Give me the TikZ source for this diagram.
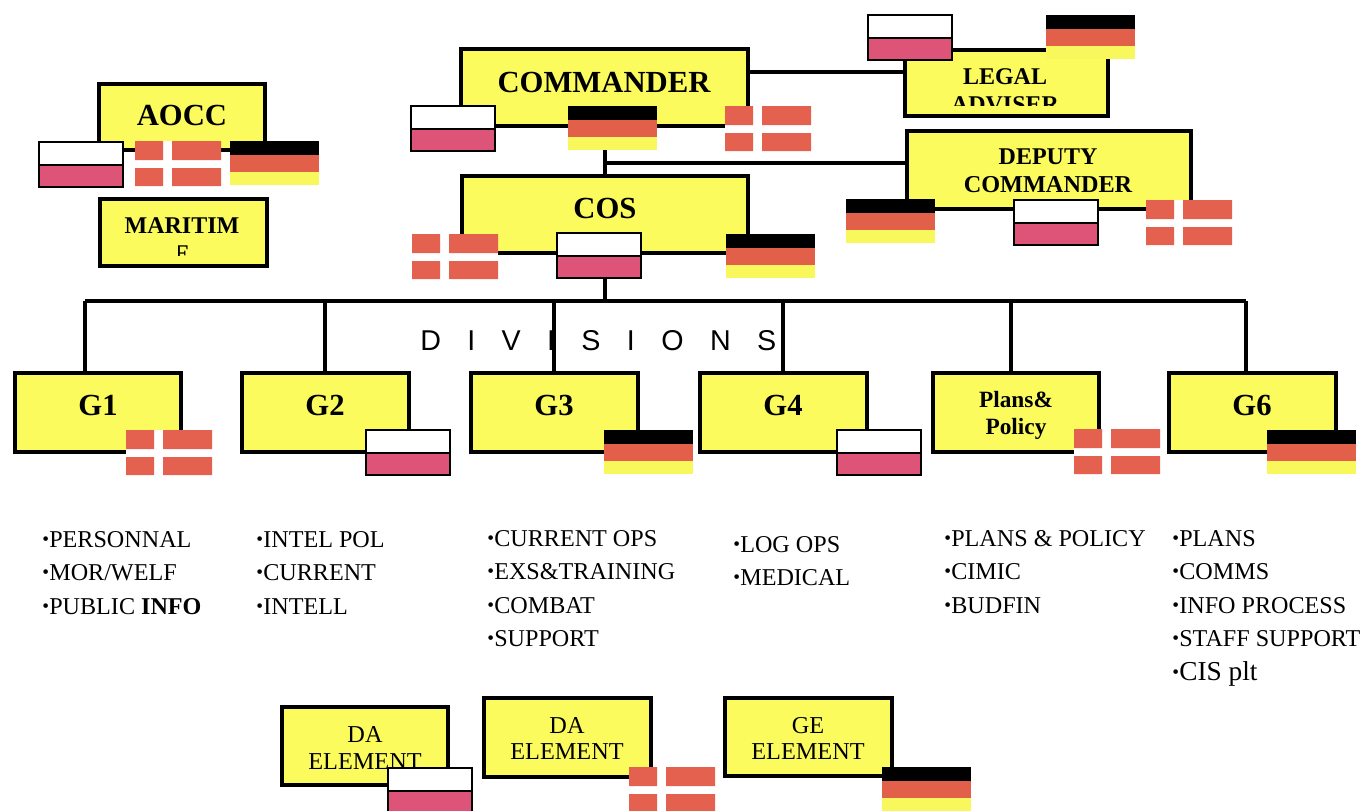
\documentclass[tikz,border=0pt]{standalone}
\usepackage{fontspec}
\setmainfont{Liberation Serif}
\newfontfamily\divfont[LetterSpace=92]{Liberation Sans}
\newlength\pxu
\setlength\pxu{0.75pt}
\definecolor{boxyellow}{HTML}{FBFB5E}
\definecolor{dkred}{HTML}{E4604F}
\definecolor{plpink}{HTML}{DE5479}
\definecolor{dered}{HTML}{E2604A}
\definecolor{deyellow}{HTML}{F8F85C}
\tikzset{
  x=0.75pt,y=-0.75pt,
  box/.style={draw=black,fill=boxyellow,line width=3pt,inner sep=0pt,rounded corners=0pt},
  conn/.style={draw=black,line width=2.8pt},
  lab/.style={inner sep=0pt,text=black,align=center},
  titleA/.style={lab,font=\fontsize{23}{28}\selectfont\bfseries},
  titleB/.style={lab,font=\fontsize{18}{21}\selectfont\bfseries},
  elem/.style={lab,font=\fontsize{18.2}{20}\selectfont},
  tasks/.style={inner sep=0pt,text=black,align=left,anchor=north west,font=\fontsize{18.1}{25.1}\selectfont},
  flagpl/.pic={
    \fill[white] (0,0) rectangle (86,24);
    \fill[plpink] (0,24) rectangle (86,47);
    \draw[black,line width=2.2pt] (1,1) rectangle (85,46);
    \draw[black,line width=2.2pt] (1,24) -- (85,24);
  },
  flagdk/.pic={
    \fill[white] (0,0) rectangle (86,45);
    \fill[dkred] (0,0) rectangle (28,19) (37,0) rectangle (86,19)
                 (0,27) rectangle (28,45) (37,27) rectangle (86,45);
  },
  flagde/.pic={
    \fill[black] (0,0) rectangle (89,14);
    \fill[dered] (0,14) rectangle (89,31);
    \fill[deyellow] (0,31) rectangle (89,44);
  },
}
\newcommand{\bl}{{\fontsize{14.5}{14.5}\selectfont\raisebox{1.4pt}{•}\kern0.2pt}}
\begin{document}
\begin{tikzpicture}
\useasboundingbox (0,0) rectangle (1369,810);
\clip (0,0) rectangle (1369,810);

% boxes
\node[box,minimum width=166\pxu,minimum height=66\pxu] (aocc) at (182,117) {};
\node[box,minimum width=167\pxu,minimum height=67\pxu] (mar) at (183.5,232.5) {};
\node[box,minimum width=287\pxu,minimum height=77\pxu] (cmd) at (604,87.5) {};
\node[box,minimum width=286\pxu,minimum height=77\pxu] (cos) at (605,214.5) {};
\node[box,minimum width=203\pxu,minimum height=66\pxu] (legal) at (1006.5,83) {};
\node[box,minimum width=284\pxu,minimum height=78\pxu] (dep) at (1049,170) {};
\node[box,minimum width=166\pxu,minimum height=79\pxu] (g1) at (98,412.5) {};
\node[box,minimum width=167\pxu,minimum height=79\pxu] (g2) at (325.5,412.5) {};
\node[box,minimum width=167\pxu,minimum height=79\pxu] (g3) at (554.5,412.5) {};
\node[box,minimum width=167\pxu,minimum height=79\pxu] (g4) at (783.5,412.5) {};
\node[box,minimum width=166\pxu,minimum height=79\pxu] (pp) at (1016,412.5) {};
\node[box,minimum width=167\pxu,minimum height=79\pxu] (g6) at (1252.5,412.5) {};
\node[box,minimum width=166\pxu,minimum height=78\pxu] (el1) at (365,746) {};
\node[box,minimum width=167\pxu,minimum height=79\pxu] (el2) at (567.5,737.5) {};
\node[box,minimum width=167\pxu,minimum height=78\pxu] (el3) at (808.5,737) {};

% DIVISIONS label (sits behind the drop line)
\node[inner sep=0pt,anchor=west,text=black,font=\fontsize{21.5}{24}\selectfont\divfont] (div) at (420,341) {DIVISIONS};

% connectors
\coordinate (cl) at (749,72);
\coordinate (cd) at (605,163);
\coordinate (bus) at (605,301);
\coordinate (b1) at (85,301);
\coordinate (b2) at (325,301);
\coordinate (b3) at (554,301);
\coordinate (b4) at (783,301);
\coordinate (b5) at (1011,301);
\coordinate (b6) at (1246,301);
\draw[conn] (cl) -- (cl-|legal.west);
\draw[conn] (cos.north) -- (cos.north|-cmd.south);
\draw[conn] (cd) -- (cd-|dep.west);
\draw[conn] (cos.south) -- (bus);
\draw[conn,line cap=square] (b1) -- (b6);
\draw[conn] (b1) -- (b1|-g1.north);
\draw[conn] (b2) -- (b2|-g2.north);
\draw[conn] (b3) -- (b3|-g3.north);
\draw[conn] (b4) -- (b4|-g4.north);
\draw[conn] (b5) -- (b5|-pp.north);
\draw[conn] (b6) -- (b6|-g6.north);

% box titles
\node[titleA] (taocc) at (182,115) {AOCC};
\node[titleB] (tmar) at (182,226) {MARITIM};
\begin{scope}
  \clip (178,240) rectangle (192,255);
  \node[titleB] (tmar2) at (182,254) {E};
\end{scope}
\node[lab,font=\fontsize{23}{28}\selectfont\bfseries] (tcmd) at (604,82) {COMMANDER};
\node[titleA] (tcos) at (605,208) {COS};
\node[titleB] (tlegal) at (1005,77) {LEGAL};
\begin{scope}
  \clip (950,90) rectangle (1060,105);
  \node[titleB] (tlegal2) at (1005,105) {ADVISER};
\end{scope}
\node[titleB] (tdep1) at (1048,157) {DEPUTY};
\node[lab,font=\fontsize{18.2}{21}\selectfont\bfseries] (tdep2) at (1048,185) {COMMANDER};
\node[titleA] (tg1) at (98,405) {G1};
\node[titleA] (tg2) at (325,405) {G2};
\node[titleA] (tg3) at (554,405) {G3};
\node[titleA] (tg4) at (783,405) {G4};
\node[lab,font=\fontsize{17.5}{21}\selectfont\bfseries] (tpp1) at (1016,400) {Plans\&};
\node[lab,font=\fontsize{17.5}{21}\selectfont\bfseries,anchor=base] (tpp2) at (1016,434) {Policy};
\node[titleA] (tg6) at (1252,405) {G6};
\node[elem] (te1a) at (365,735) {DA};
\node[elem] (te1b) at (365,762) {ELEMENT};
\node[elem] (te2a) at (567,726) {DA};
\node[elem] (te2b) at (567,752) {ELEMENT};
\node[elem] (te3a) at (808,726) {GE};
\node[elem] (te3b) at (808,752) {ELEMENT};

% task lists
\node[tasks] (l1) at (42,531) {\bl PERSONNAL\\\bl MOR/WELF\\\bl PUBLIC \textbf{INFO}};
\node[tasks] (l2) at (256,531) {\bl INTEL POL\\\bl CURRENT\\\bl INTELL};
\node[tasks] (l3) at (487,530) {\bl CURRENT OPS\\\bl EXS\&TRAINING\\\bl COMBAT\\\bl SUPPORT};
\node[tasks] (l4) at (733,536) {\bl LOG OPS\\\bl MEDICAL};
\node[tasks] (l5) at (944,530) {\bl PLANS \& POLICY\\\bl CIMIC\\\bl BUDFIN};
\node[tasks] (l6) at (1172,530) {\bl PLANS\\\bl COMMS\\\bl INFO PROCESS\\\bl STAFF SUPPORT\\\bl {\fontsize{20.5}{25.1}\selectfont CIS plt}};

% flags
\pic at (38,141) {flagpl};
\pic at (135,141) {flagdk};
\pic at (230,141) {flagde};
\pic at (410,105) {flagpl};
\pic at (568,106) {flagde};
\pic at (725,106) {flagdk};
\pic at (867,14) {flagpl};
\pic at (1046,15) {flagde};
\pic at (846,199) {flagde};
\pic at (1013,199) {flagpl};
\pic at (1146,200) {flagdk};
\pic at (412,234) {flagdk};
\pic at (556,232) {flagpl};
\pic at (726,234) {flagde};
\pic at (126,430) {flagdk};
\pic at (365,429) {flagpl};
\pic at (604,430) {flagde};
\pic at (836,429) {flagpl};
\pic at (1074,429) {flagdk};
\pic at (1267,430) {flagde};
\pic at (387,767) {flagpl};
\pic at (629,767) {flagdk};
\pic at (882,767) {flagde};
\end{tikzpicture}
\end{document}
